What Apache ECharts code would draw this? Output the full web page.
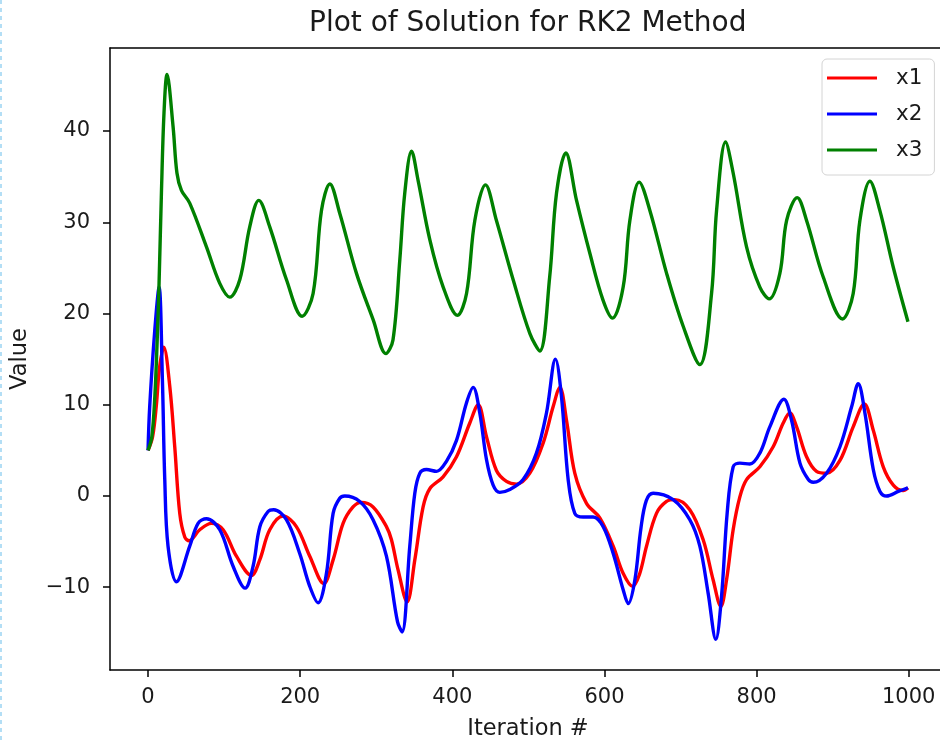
<!DOCTYPE html>
<html>
<head>
<meta charset="utf-8">
<title>Plot of Solution for RK2 Method</title>
<script src="https://cdn.jsdelivr.net/npm/echarts@6.0.0/dist/echarts.min.js"></script>
<style>
  html, body { margin: 0; padding: 0; background: #fff; overflow: hidden; }
  #chart { width: 940px; height: 742px; }
</style>
</head>
<body>
<div id="chart"></div>
<script>
// values (iteration, value)
var x1Iter = [0, 6, 11, 15, 20.7, 28.6, 35.1, 41.7, 48.3, 54, 68, 83.3, 98.7, 116.2, 135.9, 146.9, 160, 177.5, 195, 212.6, 231, 243.3, 256.4, 269.5, 280.5, 295.8, 313.4, 320, 328.7, 340.6, 350.7, 361.6, 370.4, 387.9, 405.5, 423, 434, 444.9, 458, 471.2, 484.4, 501.9, 519.4, 532.6, 541.4, 550.1, 561, 576.4, 593.9, 611.5, 624.7, 637, 646, 655.3, 668.4, 681.6, 692.5, 712.2, 729.8, 742.9, 753, 760.5, 769.2, 778, 786.8, 804.3, 821.8, 835, 843.7, 852.5, 865.7, 878.8, 892, 909.6, 927.1, 941.6, 953.4, 966.5, 979.7, 992.8, 999];
var x1Vals = [5, 6.5, 10, 14, 16.3, 12, 5.4, -1.9, -4.5, -4.9, -3.7, -3.0, -3.7, -6.6, -8.7, -7.0, -3.7, -2.2, -3.35, -6.6, -9.6, -7.0, -3.0, -1.2, -0.7, -1.2, -3.35, -4.8, -8.1, -11.6, -7.0, -1.2, 0.8, 2.1, 4.3, 8.0, 10.0, 6.5, 2.8, 1.6, 1.3, 2.5, 5.8, 9.8, 11.9, 8.3, 2.5, -0.8, -2.4, -5.5, -8.5, -9.9, -8.6, -5.5, -1.9, -0.6, -0.4, -1.5, -4.8, -9.2, -12.1, -9.2, -3.7, -0.1, 1.8, 3.2, 5.4, 8.0, 9.1, 7.6, 4.3, 2.7, 2.5, 3.9, 7.6, 10.1, 7.2, 3.2, 1.2, 0.6, 0.9];

var x2Iter = [0, 2.2, 8.9, 14.5, 18.9, 22, 26.3, 37.3, 54.8, 65.8, 76.8, 94.3, 111.8, 127.6, 138.1, 146.9, 157.8, 165.3, 181.9, 199.4, 212.6, 223.5, 234.5, 243.3, 252, 258.6, 278.3, 295.8, 313.4, 328, 334, 344.1, 350.7, 357.3, 366, 379.2, 392.3, 405.5, 418.6, 427.4, 436.1, 444.9, 453.7, 462.4, 475.6, 493.1, 510.6, 523.8, 535.6, 543.5, 552.3, 561, 572, 585.2, 598.3, 611.5, 624.7, 631.2, 640, 648, 655, 664, 690.3, 712.2, 725.4, 736.4, 746.4, 753.9, 761.3, 769.2, 778, 791.2, 804.3, 817.5, 835.9, 846, 857, 868, 874.5, 892, 909.6, 925, 933.6, 942.4, 953.4, 962.2, 970.9, 986.3, 999];
var x2Vals = [5, 9.8, 18.2, 22.9, 12.7, 1.8, -5.5, -9.4, -5.5, -3.0, -2.5, -3.7, -7.7, -10.1, -7.7, -3.4, -1.7, -1.5, -2.6, -6.3, -9.9, -11.7, -8.5, -1.9, -0.25, 0.0, -0.6, -2.6, -6.6, -13.8, -14.9, -5.5, 0.3, 2.5, 2.9, 2.7, 3.8, 6.1, 10.2, 11.9, 9.1, 4.0, 1.2, 0.4, 0.7, 1.8, 4.7, 9.1, 15.0, 10.9, 1.8, -1.9, -2.3, -2.3, -3.35, -6.3, -10.3, -11.8, -9.2, -3.5, -0.5, 0.3, -0.4, -2.6, -5.5, -10.7, -15.7, -11.0, -1.9, 3.2, 3.6, 3.5, 4.7, 7.6, 10.6, 8.3, 3.6, 1.8, 1.5, 2.5, 5.4, 9.8, 12.3, 9.1, 2.9, 0.5, 0.0, 0.5, 0.9];

var x3Iter = [0, 5, 9, 12, 14.5, 17.6, 21, 25, 32.9, 38, 43.9, 54.8, 76.8, 94.3, 107.4, 120.6, 133.7, 145.6, 160, 182, 202.5, 217, 228, 239, 252, 274, 296, 312.6, 322, 331, 337.5, 346.4, 355, 370.4, 388, 406.8, 418.7, 429.6, 443.6, 458, 480, 502, 515, 528, 537, 549.2, 563.3, 580.8, 598, 610.6, 624.6, 633.4, 645.6, 659.7, 681.7, 703.5, 725.4, 740.8, 747.4, 759.2, 769.2, 786.8, 804.3, 816.6, 830.6, 839.5, 853.4, 865.7, 887.6, 913, 927, 935.8, 949, 962, 979.6, 999];
var x3Vals = [5, 6.5, 11, 17, 23.3, 33.2, 42, 46.2, 40.5, 35.4, 33.5, 32.1, 27.3, 23.3, 21.8, 23.7, 29.5, 32.4, 29.5, 23.7, 19.7, 22.2, 31.3, 34.2, 31.0, 24.4, 19.3, 15.6, 17.1, 25.9, 33.2, 37.8, 34.6, 28.1, 22.9, 19.8, 22.2, 30.2, 34.1, 30.2, 23.7, 17.8, 15.9, 24.0, 33.2, 37.6, 32.4, 26.6, 21.5, 19.5, 22.9, 30.2, 34.4, 31.3, 24.4, 18.6, 14.4, 22.2, 31.3, 38.8, 35.4, 27.3, 22.9, 21.6, 24.4, 30.2, 32.7, 30.2, 24.0, 19.4, 22.2, 30.2, 34.5, 31.3, 25.1, 19.1];

var seriesNames = ['x1', 'x2', 'x3'];
var seriesColors = ['#ff0000', '#0000ff', '#008000'];
var xTicks = [0, 200, 400, 600, 800, 1000];
var yTicks = [-10, 0, 10, 20, 30, 40];

function pairs(iters, vals) {
    var out = [];
    for (var i = 0; i < iters.length; i++) {
        out.push([iters[i], vals[i]]);
    }
    return out;
}

// matplotlib style tick text: no thousands separator, real minus sign
function tickText(v) {
    return String(v).replace('-', '\u2212');
}

var fontFam = 'DejaVu Sans';
var textColor = '#1a1a1a';
var X_MIN = -50, X_MAX = 1049;

function makeSeries(idx, data) {
    return {
        name: seriesNames[idx],
        type: 'line',
        data: data,
        showSymbol: false,
        symbol: 'none',
        smooth: 0.35,
        color: seriesColors[idx],
        lineStyle: { width: 3.4, color: seriesColors[idx] },
        z: 2 + idx
    };
}

var chart = echarts.init(document.getElementById('chart'), null, { renderer: 'canvas' });

var option = {
    animation: false,
    backgroundColor: '#ffffff',
    title: {
        text: 'Plot of Solution for RK2 Method',
        left: 309,
        top: 10,
        padding: 0,
        textStyle: { fontFamily: fontFam, fontSize: 28, fontWeight: 'normal', color: textColor }
    },
    legend: {
        data: seriesNames,
        orient: 'vertical',
        left: 822,
        top: 59,
        icon: 'rect',
        itemWidth: 50,
        itemHeight: 3,
        itemGap: 14,
        padding: [8, 12, 14, 5],
        borderColor: '#d4d4d4',
        borderWidth: 1,
        borderRadius: 5,
        backgroundColor: 'rgba(255,255,255,0.8)',
        textStyle: { fontFamily: fontFam, fontSize: 21.5, color: textColor, padding: [0, 0, 0, 14] }
    },
    grid: {
        left: 110,
        top: 48,
        width: 836,
        height: 622,
        show: false,
        outerBoundsMode: 'none',
        containLabel: false
    },
    xAxis: [{
        type: 'value',
        min: X_MIN,
        max: X_MAX,
        name: 'Iteration #',
        nameLocation: 'middle',
        nameGap: 48,
        nameTextStyle: { fontFamily: fontFam, fontSize: 22.5, color: textColor },
        axisLine: { show: true, onZero: false, lineStyle: { color: '#000', width: 1.5 } },
        axisTick: { show: true, length: 7, customValues: xTicks, lineStyle: { color: '#000', width: 1.5 } },
        axisLabel: { customValues: xTicks, formatter: tickText, fontFamily: fontFam, fontSize: 21, color: textColor, margin: 17 },
        splitLine: { show: false }
    }, {
        // top spine only
        type: 'value',
        position: 'top',
        min: X_MIN,
        max: X_MAX,
        axisLine: { show: true, onZero: false, lineStyle: { color: '#000', width: 1.5 } },
        axisTick: { show: false },
        axisLabel: { show: false },
        splitLine: { show: false }
    }],
    yAxis: {
        type: 'value',
        min: -19.07,
        max: 49.1,
        name: 'Value',
        nameLocation: 'middle',
        nameGap: 78,
        nameTextStyle: { fontFamily: fontFam, fontSize: 22.5, color: textColor },
        axisLine: { show: true, onZero: false, lineStyle: { color: '#000', width: 1.5 } },
        axisTick: { show: true, length: 7, customValues: yTicks, lineStyle: { color: '#000', width: 1.5 } },
        axisLabel: { customValues: yTicks, formatter: tickText, fontFamily: fontFam, fontSize: 21, color: textColor, margin: 20 },
        splitLine: { show: false }
    },
    graphic: [{
        type: 'line',
        shape: { x1: 1, y1: 0, x2: 1, y2: 742 },
        style: { stroke: '#9ad4f2', lineWidth: 1.5, lineDash: [4, 4] },
        silent: true
    }],
    series: [
        makeSeries(0, pairs(x1Iter, x1Vals)),
        makeSeries(1, pairs(x2Iter, x2Vals)),
        makeSeries(2, pairs(x3Iter, x3Vals))
    ]
};

chart.setOption(option);
</script>
</body>
</html>
